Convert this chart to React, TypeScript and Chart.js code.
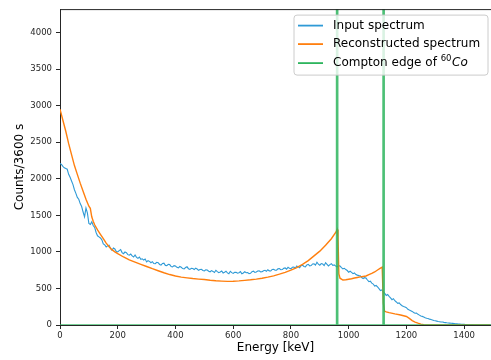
import React, { useEffect, useRef } from 'react';
import { Chart, registerables } from 'chart.js';

Chart.register(...registerables);

// Input spectrum: counts per 5 keV bin, starting at 0 keV
const INPUT_BIN_KEV = 5;
const inputCounts = [
  // 0 - 195
  2210, 2195, 2170, 2150, 2140, 2130, 2060, 2020, 1970, 1920,
  1850, 1800, 1745, 1720, 1660, 1620, 1545, 1480, 1600, 1530,
  1390, 1375, 1410, 1360, 1335, 1265, 1220, 1205, 1190, 1165,
  1110, 1095, 1068, 1082, 1092, 1045, 1020, 1052, 1040, 1005,
  // 200 - 395
  1000, 1018, 1032, 990, 975, 998, 988, 962, 955, 970,
  945, 930, 958, 925, 912, 930, 898, 905, 888, 902,
  862, 880, 870, 852, 866, 840, 838, 858, 852, 828,
  820, 842, 846, 815, 812, 830, 826, 800, 795, 812,
  // 400 - 595
  806, 788, 782, 800, 790, 772, 768, 786, 796, 770,
  760, 774, 772, 758, 778, 766, 748, 760, 762, 745,
  740, 756, 752, 735, 728, 744, 733, 718, 748, 730,
  716, 726, 738, 712, 722, 735, 712, 700, 734, 716,
  // 600 - 795
  705, 720, 722, 708, 716, 730, 700, 712, 728, 715,
  718, 702, 706, 730, 736, 718, 724, 738, 742, 726,
  728, 742, 748, 735, 756, 740, 738, 760, 762, 748,
  750, 768, 772, 755, 758, 776, 780, 764, 790, 775,
  // 800 - 995
  768, 790, 792, 776, 806, 795, 784, 810, 818, 800,
  796, 822, 830, 808, 812, 835, 836, 818, 858, 832,
  818, 840, 834, 812, 852, 830, 808, 826, 838, 815,
  822, 805, 796, 812, 806, 784, 768, 775, 758, 745,
  // 1000 - 1195
  722, 735, 720, 702, 712, 690, 682, 675, 672, 650,
  636, 648, 642, 615, 592, 600, 572, 560, 532, 540,
  520, 498, 472, 480, 452, 432, 405, 418, 392, 370,
  346, 360, 332, 315, 296, 302, 280, 262, 252, 245,
  // 1200 - 1395
  236, 215, 205, 196, 186, 172, 160, 162, 146, 135,
  122, 118, 110, 100, 92, 88, 80, 74, 68, 62,
  58, 53, 48, 45, 42, 40, 36, 33, 30, 28,
  26, 24, 22, 20, 18, 16, 14, 12, 10, 9,
  // 1400 - 1495
  8, 6, 5, 4, 3, 2, 2, 1, 1, 0,
  0, 0, 0, 0, 0, 0, 0, 0, 0, 0,
];

// Reconstructed spectrum
const reconEnergy = [
  0, 10, 20, 30, 40, 50, 60, 70, 80, 90,
  100, 105, 110, 115, 120, 130, 140, 150, 160, 170,
  180, 190, 200, 220, 240, 260, 280, 300, 320, 340,
  360, 380, 400, 420, 440, 460, 480, 500, 520, 540,
  560, 580, 600, 620, 640, 660, 680, 700, 720, 740,
  760, 780, 800, 820, 840, 860, 880, 900, 920, 940,
  955, 960, 963, 966, 970, 980, 990, 1000, 1010, 1020,
  1030, 1040, 1050, 1060, 1070, 1080, 1090, 1100, 1110, 1116,
  1120, 1124, 1130, 1140, 1160, 1180, 1200, 1210, 1220, 1230,
  1240, 1250, 1260, 1270, 1490,
];
const reconCounts = [
  2950, 2800, 2650, 2480, 2330, 2180, 2060, 1940, 1830, 1720,
  1625, 1595, 1480, 1420, 1370, 1300, 1240, 1180, 1120, 1070,
  1030, 1000, 975, 930, 890, 860, 830, 800, 770, 742,
  715, 690, 670, 655, 645, 635, 628, 622, 612, 605,
  600, 596, 598, 603, 610, 618, 628, 640, 655, 672,
  695, 720, 750, 785, 830, 880, 945, 1010, 1090, 1180,
  1265, 1305, 1200, 700, 640, 615, 618, 625, 632, 642,
  650, 658, 664, 670, 688, 705, 725, 752, 778, 792,
  300, 190, 180, 170, 152, 136, 116, 90, 60, 40,
  25, 12, 5, 0, 0,
];

// Compton edges of 60Co drawn as narrow spikes on a zero baseline
const comptonEnergy = [0, 958, 958, 962, 962, 1119, 1119, 1123, 1123, 1493];
const comptonCounts = [0, 0, 100000, 100000, 0, 0, 100000, 100000, 0, 0];

const xMax = 1493;
const yMax = 4320;
const xTickValues = [0, 200, 400, 600, 800, 1000, 1200, 1400];
const yTickValues = [0, 500, 1000, 1500, 2000, 2500, 3000, 3500, 4000];

const seriesNames = ['Input spectrum', 'Reconstructed spectrum', 'Compton edge of '];
const seriesColors = ['#2f9ad6', '#ff7f0e', '#2db55d'];

const FONT = "'DejaVu Sans', sans-serif";

const framePlugin = {
  id: 'frameTop',
  afterDatasetsDraw(chart: any) {
    const { ctx, chartArea: a } = chart;
    ctx.save();
    ctx.strokeStyle = '#262626';
    ctx.lineWidth = 1;
    ctx.beginPath();
    ctx.moveTo(a.left, a.top + 0.5);
    ctx.lineTo(a.right, a.top + 0.5);
    ctx.stroke();
    ctx.restore();
  },
};

const legendPlugin = {
  id: 'mplLegend',
  afterDraw(chart: any) {
    const { ctx, chartArea: a } = chart;
    const w = 194;
    const h = 60;
    const x0 = a.right - w - 3;
    const y0 = a.top + 6;
    ctx.save();
    ctx.beginPath();
    const r = 3;
    ctx.moveTo(x0 + r, y0);
    ctx.lineTo(x0 + w - r, y0);
    ctx.quadraticCurveTo(x0 + w, y0, x0 + w, y0 + r);
    ctx.lineTo(x0 + w, y0 + h - r);
    ctx.quadraticCurveTo(x0 + w, y0 + h, x0 + w - r, y0 + h);
    ctx.lineTo(x0 + r, y0 + h);
    ctx.quadraticCurveTo(x0, y0 + h, x0, y0 + h - r);
    ctx.lineTo(x0, y0 + r);
    ctx.quadraticCurveTo(x0, y0, x0 + r, y0);
    ctx.closePath();
    ctx.fillStyle = 'rgba(255,255,255,0.8)';
    ctx.fill();
    ctx.strokeStyle = '#cccccc';
    ctx.lineWidth = 1;
    ctx.stroke();

    const rows = [y0 + 10.5, y0 + 29, y0 + 48];
    rows.forEach((yy, i) => {
      ctx.strokeStyle = seriesColors[i];
      ctx.lineWidth = 1.8;
      ctx.beginPath();
      ctx.moveTo(x0 + 4, yy);
      ctx.lineTo(x0 + 29, yy);
      ctx.stroke();
      ctx.fillStyle = '#000';
      ctx.textBaseline = 'middle';
      ctx.textAlign = 'left';
      ctx.font = `12px ${FONT}`;
      let tx = x0 + 39;
      ctx.fillText(seriesNames[i], tx, yy);
      if (i === 2) {
        tx += ctx.measureText(seriesNames[i]).width;
        ctx.font = `8.5px ${FONT}`;
        ctx.fillText('60', tx, yy - 4.5);
        tx += ctx.measureText('60').width + 0.5;
        ctx.font = `italic 12px ${FONT}`;
        ctx.fillText('Co', tx, yy);
      }
    });
    ctx.restore();
  },
};

export default function App() {
  const ref = useRef<HTMLCanvasElement | null>(null);

  useEffect(() => {
    document.body.style.margin = '0';
    const canvas = ref.current;
    if (!canvas) return;

    const inputData = inputCounts.map((c, i) => ({ x: i * INPUT_BIN_KEV, y: c }));
    const reconData = reconEnergy.map((e, i) => ({ x: e, y: reconCounts[i] }));
    const comptonData = comptonEnergy.map((e, i) => ({ x: e, y: comptonCounts[i] }));

    const chart = new Chart(canvas, {
      type: 'line',
      data: {
        datasets: [
          {
            label: seriesNames[0],
            data: inputData,
            borderColor: seriesColors[0],
            borderWidth: 1.1,
            pointRadius: 0,
            tension: 0,
            order: 2,
          },
          {
            label: seriesNames[1],
            data: reconData,
            borderColor: seriesColors[1],
            borderWidth: 1.4,
            pointRadius: 0,
            tension: 0,
            order: 1,
          },
          {
            label: seriesNames[2] + '60Co',
            data: comptonData,
            borderColor: 'rgba(45,181,93,0.85)',
            borderWidth: 1.5,
            pointRadius: 0,
            tension: 0,
            order: 0,
          },
        ],
      },
      options: {
        animation: false,
        responsive: false,
        maintainAspectRatio: false,
        events: [],
        layout: { padding: { top: 8, left: 0, right: 0, bottom: 0 } },
        plugins: {
          legend: { display: false },
          tooltip: { enabled: false },
        },
        scales: {
          x: {
            type: 'linear',
            min: 0,
            max: xMax,
            afterFit: (s: any) => {
              s.height = 35;
            },
            afterBuildTicks: (s: any) => {
              s.ticks = xTickValues.map((v) => ({ value: v }));
            },
            border: { display: true, color: '#262626', width: 1 },
            grid: {
              display: true,
              drawOnChartArea: false,
              drawTicks: true,
              tickLength: 4,
              tickColor: '#262626',
            },
            ticks: {
              autoSkip: false,
              maxRotation: 0,
              color: '#262626',
              padding: 2,
              font: { family: FONT, size: 8.5 },
              callback: (v: any) => String(v),
            },
            title: {
              display: true,
              text: 'Energy [keV]',
              color: '#000',
              font: { family: FONT, size: 12 },
              padding: { top: 0, bottom: 5 },
            },
          },
          y: {
            type: 'linear',
            min: 0,
            max: yMax,
            afterFit: (s: any) => {
              s.width = 60;
            },
            afterBuildTicks: (s: any) => {
              s.ticks = yTickValues.map((v) => ({ value: v }));
            },
            border: { display: true, color: '#262626', width: 1 },
            grid: {
              display: true,
              drawOnChartArea: false,
              drawTicks: true,
              tickLength: 4,
              tickColor: '#262626',
            },
            ticks: {
              autoSkip: false,
              color: '#262626',
              padding: 4,
              font: { family: FONT, size: 8.5 },
              callback: (v: any) => String(v),
            },
            title: {
              display: true,
              text: 'Counts/3600 s',
              color: '#000',
              font: { family: FONT, size: 12 },
              padding: { top: 13, bottom: 0 },
            },
          },
        },
      },
      plugins: [framePlugin, legendPlugin],
    });

    return () => chart.destroy();
  }, []);

  return (
    <div style={{ position: 'fixed', left: 0, top: 0, width: 491, height: 360, background: '#fff' }}>
      <canvas ref={ref} width={491} height={360} />
    </div>
  );
}
